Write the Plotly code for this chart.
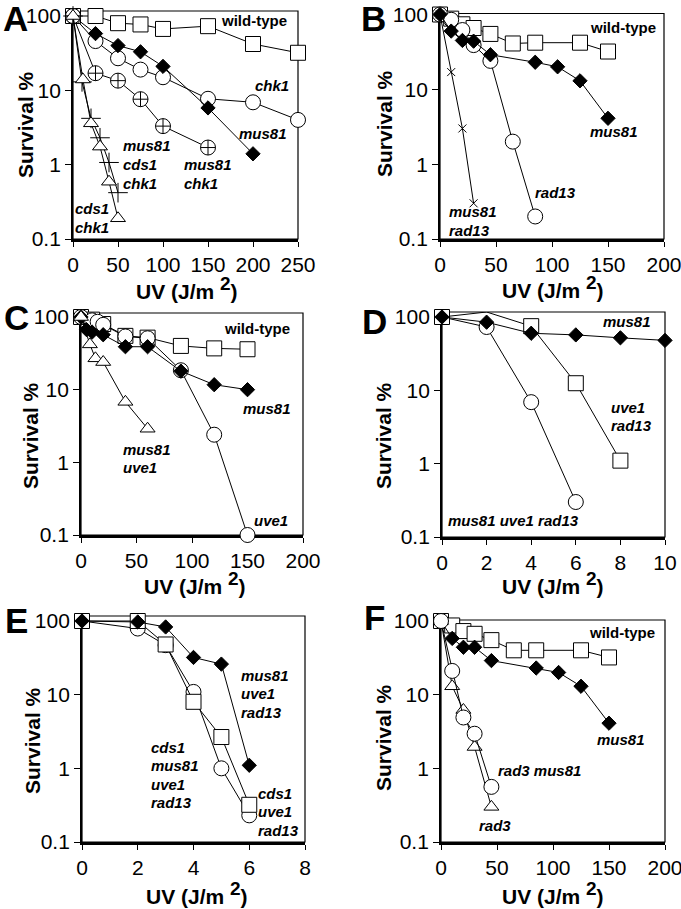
import plotly.graph_objects as go

W, H = 681, 909

# ---------------- DATA ----------------
# Panel A
A_dose_wt = [0, 25, 50, 75, 100, 150, 200, 250]
A_wt = [100, 100, 80, 77, 67, 73, 42, 32]
A_dose_mus81 = [0, 25, 50, 75, 100, 150, 200]
A_mus81 = [100, 58, 40, 33, 21, 5.8, 1.4]
A_dose_chk1 = [0, 25, 50, 75, 100, 150, 200, 250]
A_chk1 = [100, 46, 27, 19, 15, 7.7, 6.9, 4.0]
A_dose_mus81_chk1 = [0, 25, 50, 75, 100, 150]
A_mus81_chk1 = [100, 17, 13.5, 7.6, 3.3, 1.7]
A_dose_cds1_chk1 = [0, 11, 20, 30, 40, 50]
A_cds1_chk1 = [100, 14, 3.6, 1.75, 0.59, 0.19]
A_dose_mus81_cds1_chk1 = [0, 10, 20, 30, 40, 50]
A_mus81_cds1_chk1 = [100, 13, 4.2, 2.3, 1.07, 0.42]

# Panel B
B_dose_wt = [0, 10, 20, 30, 45, 65, 85, 125, 150]
B_wt = [100, 88, 74, 66, 55, 41, 42, 42, 32]
B_dose_mus81 = [0, 10, 20, 30, 45, 85, 105, 125, 150]
B_mus81 = [100, 60, 45, 44, 29, 23, 20, 13, 4.1]
B_dose_rad13 = [0, 10, 20, 30, 45, 65, 85]
B_rad13 = [100, 85, 62, 39, 24, 2.0, 0.2]
B_dose_mus81_rad13 = [0, 10, 20, 30]
B_mus81_rad13 = [100, 17, 3.0, 0.3]

# Panel C
C_dose_wt = [0, 10, 20, 40, 60, 90, 120, 150]
C_wt = [100, 92, 80, 55, 52, 40, 37, 36]
C_dose_mus81 = [0, 5, 10, 20, 40, 60, 90, 120, 150]
C_mus81 = [100, 67, 62, 57, 39, 39, 18, 11.7, 10]
C_dose_uve1 = [0, 10, 15, 20, 40, 60, 90, 120, 150]
C_uve1 = [100, 90, 86, 78, 54, 51, 18.5, 2.4, 0.1]
C_dose_mus81_uve1 = [0, 8, 13, 20, 40, 60]
C_mus81_uve1 = [100, 42, 27, 24, 6.8, 2.9]

# Panel D
D_dose_mus81 = [0, 2, 4, 6, 8, 10]
D_mus81 = [100, 85, 60, 57, 52, 48]
D_dose_uve1_rad13 = [0, 2, 4, 6, 8]
D_uve1_rad13 = [100, 117, 75, 12.5, 1.1]
D_dose_mus81_uve1_rad13 = [0, 2, 4, 6]
D_mus81_uve1_rad13 = [100, 73, 6.9, 0.3]

# Panel E
E_dose = [0, 2, 3, 4, 5, 6]
E_mus81_uve1_rad13 = [100, 97, 83, 32, 26, 1.1]
E_cds1_mus81_uve1_rad13 = [100, 79, 47, 10.9, 1.0, 0.23]
E_cds1_uve1_rad13 = [100, 100, 48, 8, 2.66, 0.32]

# Panel F
F_dose_wt = [0, 10, 20, 30, 45, 65, 85, 125, 150]
F_wt = [100, 87, 73, 67, 55, 40, 40, 40, 32]
F_dose_mus81 = [0, 10, 20, 30, 45, 85, 105, 125, 150]
F_mus81 = [100, 58, 44, 44, 29, 23, 20, 13, 4.1]
F_dose_rad3 = [0, 10, 20, 30, 45]
F_rad3_mus81 = [100, 21, 4.9, 2.95, 0.56]
F_rad3 = [100, 13, 6.2, 1.95, 0.3]

Y_TICKS = [0.1, 1, 10, 100]
Y_TICKTEXT = ["0.1", "1", "10", "100"]
X_TICKS = {
    "A": [0, 50, 100, 150, 200, 250],
    "B": [0, 50, 100, 150, 200],
    "C": [0, 50, 100, 150, 200],
    "D": [0, 2, 4, 6, 8, 10],
    "E": [0, 2, 4, 6, 8],
    "F": [0, 50, 100, 150, 200],
}

# ---------------- LAYOUT GEOMETRY (pixels) ----------------
# name: (x_left, x_right, y_px_of_0.1, y_px_of_100, y_px_top)
GEOM = {
    "A": (73, 298, 239, 16, 11),
    "B": (440, 664, 239, 14.5, 13.5),
    "C": (81, 303, 535, 317, 313),
    "D": (442, 665, 537, 317, 312),
    "E": (82, 305, 842, 621, 616),
    "F": (441, 665, 842, 621, 620),
}
PANELS = ["A", "B", "C", "D", "E", "F"]

FONT = "Liberation Sans, Arial, Helvetica, sans-serif"

SQ = dict(symbol="square", size=15, color="white", line=dict(color="black", width=1))
CI = dict(symbol="circle", size=15, color="white", line=dict(color="black", width=1))
DI = dict(symbol="diamond", size=11, color="black", line=dict(color="black", width=1))
TR = dict(symbol="triangle-up", size=13, color="white", line=dict(color="black", width=1))
CC = dict(symbol="circle-cross", size=15, color="white", line=dict(color="black", width=1))
PL = dict(symbol="cross-thin", size=14, color="black", line=dict(color="black", width=1))
XX = dict(symbol="x-thin", size=8, color="black", line=dict(color="black", width=1))

SERIES = {
    "A": [(A_dose_wt, A_wt, SQ), (A_dose_chk1, A_chk1, CI), (A_dose_mus81, A_mus81, DI),
          (A_dose_mus81_chk1, A_mus81_chk1, CC), (A_dose_mus81_cds1_chk1, A_mus81_cds1_chk1, PL),
          (A_dose_cds1_chk1, A_cds1_chk1, TR)],
    "B": [(B_dose_wt, B_wt, SQ), (B_dose_rad13, B_rad13, CI), (B_dose_mus81, B_mus81, DI),
          (B_dose_mus81_rad13, B_mus81_rad13, XX)],
    "C": [(C_dose_wt, C_wt, SQ), (C_dose_uve1, C_uve1, CI), (C_dose_mus81, C_mus81, DI),
          (C_dose_mus81_uve1, C_mus81_uve1, TR)],
    "D": [(D_dose_mus81_uve1_rad13, D_mus81_uve1_rad13, CI), (D_dose_uve1_rad13, D_uve1_rad13, SQ),
          (D_dose_mus81, D_mus81, DI)],
    "E": [(E_dose, E_cds1_mus81_uve1_rad13, CI), (E_dose, E_cds1_uve1_rad13, SQ),
          (E_dose, E_mus81_uve1_rad13, DI)],
    "F": [(F_dose_wt, F_wt, SQ), (F_dose_mus81, F_mus81, DI), (F_dose_rad3, F_rad3, TR),
          (F_dose_rad3, F_rad3_mus81, CI)],
}

# labels: (text lines, left px, first-line centre y px, style)  style: 'b' bold, 'bi' bold italic
LABELS = {
    "A": [(["wild-type"], 219, 21, "b"), (["chk1"], 253, 86, "bi"), (["mus81"], 237, 134, "bi"),
          (["mus81", "chk1"], 182, 165, "bi"), (["mus81", "cds1", "chk1"], 121, 146, "bi"),
          (["cds1", "chk1"], 73, 209, "bi")],
    "B": [(["wild-type"], 588, 27, "b"), (["mus81"], 588, 132, "bi"), (["rad13"], 533, 193, "bi"),
          (["mus81", "rad13"], 447, 212, "bi")],
    "C": [(["wild-type"], 222, 328, "b"), (["mus81"], 241, 408, "bi"), (["mus81", "uve1"], 121, 449, "bi"),
          (["uve1"], 252, 520, "bi")],
    "D": [(["mus81"], 601, 322, "bi"), (["uve1", "rad13"], 609, 407, "bi"),
          (["mus81 uve1 rad13"], 446, 520, "bi")],
    "E": [(["mus81", "uve1", "rad13"], 239, 675, "bi"), (["cds1", "mus81", "uve1", "rad13"], 149, 747, "bi"),
          (["cds1", "uve1", "rad13"], 256, 793, "bi")],
    "F": [(["wild-type"], 587, 632, "b"), (["mus81"], 595, 739, "bi"), (["rad3 mus81"], 496, 770, "bi"),
          (["rad3"], 477, 825, "bi")],
}
LETTER_POS = {"A": (15, 19), "B": (373, 18), "C": (16, 317), "D": (375, 322), "E": (16, 620), "F": (375, 617)}
XTITLE_POS = {"A": (187, 288), "B": (553, 287), "C": (195, 583), "D": (553, 583), "E": (197, 893), "F": (553, 893)}
YTITLE_POS = {"A": (25, 125), "B": (385, 123), "C": (30, 436), "D": (383, 436), "E": (32, 741), "F": (383, 738)}


def px(xp):
    return xp / W


def py(yp):
    return 1 - yp / H


fig = go.Figure()
layout = dict(
    width=W, height=H, autosize=False,
    margin=dict(l=0, r=0, t=0, b=0, pad=0, autoexpand=False),
    paper_bgcolor="white", plot_bgcolor="white",
    font=dict(family=FONT, color="black", size=21),
    showlegend=False,
)
shapes, annotations = [], []

for i, p in enumerate(PANELS):
    n = "" if i == 0 else str(i + 1)
    xl, xr, yb, y100, yt = GEOM[p]
    dec = (yb - y100) / 3.0
    top = 2 + (y100 - yt) / dec
    xmax = X_TICKS[p][-1]
    layout["xaxis" + n] = dict(
        domain=[px(xl), px(xr)], range=[0, xmax], anchor="y" + n, automargin=False,
        tickvals=X_TICKS[p], ticks="outside", ticklen=5, tickwidth=1, tickcolor="black",
        showline=True, linewidth=2.5, linecolor="black", showgrid=False, zeroline=False,
        tickfont=dict(size=21), layer="below traces", ticklabeloverflow="allow",
    )
    layout["yaxis" + n] = dict(
        domain=[py(yb), py(yt)], type="log", range=[-1, top], anchor="x" + n, automargin=False,
        tickvals=Y_TICKS, ticktext=Y_TICKTEXT, ticks="outside", ticklen=6, tickwidth=1,
        tickcolor="black", showline=True, linewidth=1.8, linecolor="black",
        showgrid=False, zeroline=False, tickfont=dict(size=21), layer="below traces",
        ticklabeloverflow="allow",
    )
    shapes.append(dict(type="rect", xref="x" + n + " domain", yref="y" + n + " domain",
                       x0=0, x1=1, y0=0, y1=1, line=dict(color="black", width=1.2), layer="below"))
    for xs, ys, mk in SERIES[p]:
        fig.add_trace(go.Scatter(
            x=xs, y=ys, mode="lines+markers", xaxis="x" + n, yaxis="y" + n,
            line=dict(color="black", width=1), marker=mk, cliponaxis=False, hoverinfo="skip",
        ))
    for lines, lx, ly, st in LABELS[p]:
        for k, t in enumerate(lines):
            txt = "<b>%s</b>" % t if st == "b" else "<b><i>%s</i></b>" % t
            annotations.append(dict(text=txt, xref="paper", yref="paper", x=px(lx), y=py(ly + 18.5 * k),
                                    xanchor="left", yanchor="middle", showarrow=False,
                                    font=dict(size=15)))
    lx, ly = LETTER_POS[p]
    annotations.append(dict(text="<b>%s</b>" % p, xref="paper", yref="paper", x=px(lx), y=py(ly),
                            xanchor="center", yanchor="middle", showarrow=False, font=dict(size=35)))
    tx, ty = XTITLE_POS[p]
    annotations.append(dict(text="<b>UV (J/m <sup><span style=\"font-size:19px\">2</span></sup>)</b>",
                            xref="paper", yref="paper",
                            x=px(tx), y=py(ty), xanchor="center", yanchor="middle",
                            showarrow=False, font=dict(size=21)))
    tx, ty = YTITLE_POS[p]
    annotations.append(dict(text="<b>Survival %</b>", xref="paper", yref="paper", x=px(tx), y=py(ty),
                            xanchor="center", yanchor="middle", textangle=-90, showarrow=False,
                            font=dict(size=21)))

layout["shapes"] = shapes
layout["annotations"] = annotations
fig.update_layout(**layout)
fig.write_html(
    "out.html",
    config={"displayModeBar": False},
    post_script="document.body.style.margin='0';document.body.style.padding='0';"
                "document.body.style.overflow='hidden';",
)
